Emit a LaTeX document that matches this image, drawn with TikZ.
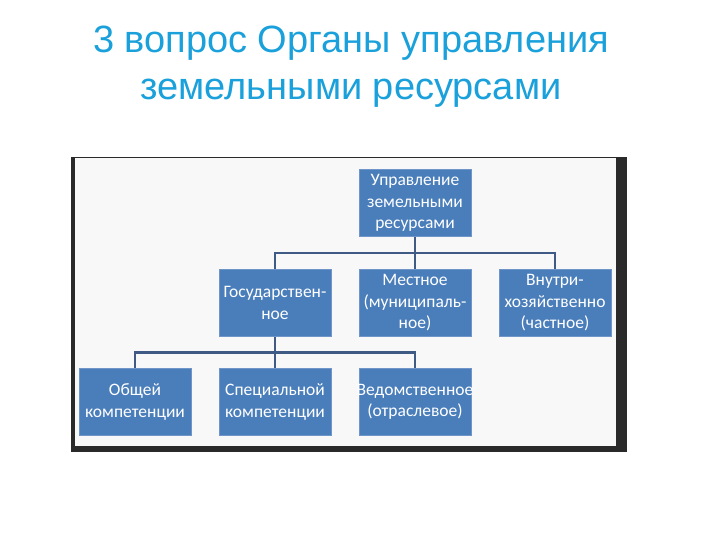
\documentclass[tikz,border=0pt]{standalone}
\usepackage{fontspec}
\setmainfont{Liberation Sans}
\newfontfamily\boxfont{Carlito}
\usepackage{tikz}
\usetikzlibrary{calc}
\definecolor{titleblue}{HTML}{1AA0DA}
\definecolor{boxblue}{HTML}{4A7EBB}
\definecolor{boxedge}{HTML}{6F95C9}
\definecolor{linkblue}{HTML}{3F5A85}
\definecolor{framedark}{HTML}{2A2A2A}
\definecolor{paper}{HTML}{F8F8F8}
\tikzset{
  orgbox/.style={draw=boxedge, line width=0.8pt, fill=boxblue, text=white,
    minimum width=112pt, minimum height=67pt, inner xsep=-3pt, inner ysep=0pt,
    align=center, font=\boxfont\fontsize{17.5}{21.5}\selectfont},
  link/.style={draw=linkblue, line width=2.2pt}
}

\begin{document}
\begin{tikzpicture}[x=1pt,y=-1pt]
        \useasboundingbox (0,0) rectangle (720,540);
        \pgfmathsetmacro\dx{140}
        \pgfmathsetmacro\ya{203}
        \pgfmathsetmacro\yb{303}
        \pgfmathsetmacro\yc{402}
        \node [text=titleblue, align=center, font=\fontsize{38}{47}\selectfont]
          (title) at (351,66.5) {3 вопрос Органы управления\\земельными ресурсами};
        \fill [framedark] (71,157) rectangle (627,452);
        \fill [paper] (75,158) rectangle (616,446);
        \node [orgbox] (root) at (415,\ya) {Управление\\земельными\\ресурсами};
        \node [orgbox] (gos) at (415-\dx,\yb) {Государствен-\\ное};
        \node [orgbox] (mest) at (415,\yb) {Местное\\(муниципаль-\\ное)};
        \node [orgbox] (vnutr) at (415+\dx,\yb) {Внутри-\\хозяйственно\\(частное)};
        \node [orgbox] (obsh) at (415-2*\dx,\yc) {Общей\\компетенции};
        \node [orgbox] (spec) at (415-\dx,\yc) {Специальной\\компетенции};
        \node [orgbox] (ved) at (415,\yc) {Ведомственное\\(отраслевое)};
        \coordinate (J1) at ($(root.south)!0.5!(mest.north)$);
        \coordinate (J2) at ($(gos.south)!0.5!(spec.north)$);
        \draw [link] (root) -- (mest);
        \draw [link] (gos.north) |- (J1) -| (vnutr.north);
        \draw [link] (gos) -- (spec);
        \draw [link] (obsh.north) |- (J2) -| (ved.north);
    \end{tikzpicture}
\end{document}
